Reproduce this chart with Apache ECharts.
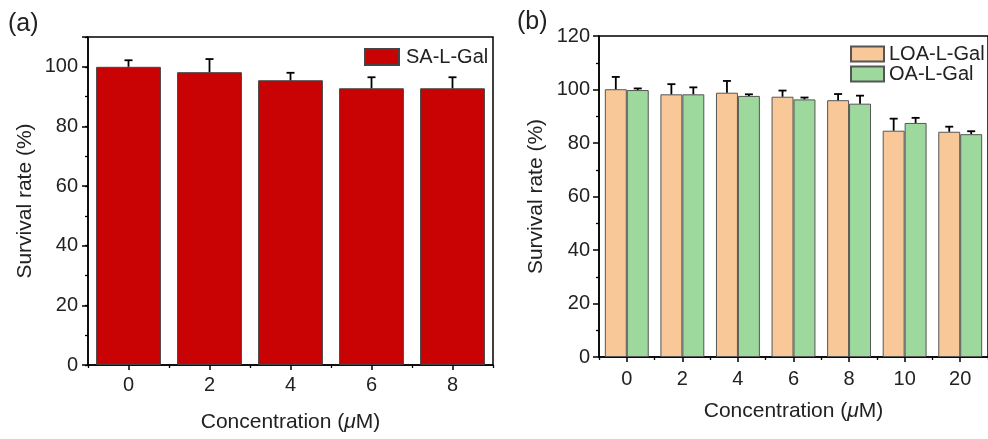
<!DOCTYPE html>
<html>
<head>
<meta charset="utf-8">
<script src="https://cdn.jsdelivr.net/npm/echarts@6/dist/echarts.min.js"></script>
<style>
html,body{margin:0;padding:0;background:#fff;}
#chart{width:988px;height:439px;}
</style>
</head>
<body>
<div id="chart"></div>
<script>
// ---- data ----
var catsA = ['0', '2', '4', '6', '8'];
var saVals = [100, 98.2, 95.5, 92.8, 92.8];
var saErr = [2.2, 4.4, 2.5, 3.7, 3.7];

var catsB = ['0', '2', '4', '6', '8', '10', '20'];
var loaVals = [100.1, 98.2, 98.8, 97.3, 96.0, 84.6, 84.2];
var loaErr = [4.6, 3.8, 4.4, 2.3, 2.3, 4.5, 1.9];
var oaVals = [99.8, 98.2, 97.6, 96.3, 94.7, 87.5, 83.3];
var oaErr = [0.6, 2.6, 0.6, 0.7, 3.0, 1.9, 1.1];

var FONT = '"Liberation Sans", Arial, sans-serif';
var TXT = '#222';

function errItem(gapFrac, nGroup, pos) {
  return function (params, api) {
    var i = api.value(0), v = api.value(1), e = api.value(2);
    var catW = api.size([1, 0])[0];
    var barW = catW * (1 - gapFrac) / nGroup;
    var center = api.coord([i, v]);
    var dx = (pos - (nGroup - 1) / 2) * barW;
    var x = center[0] + dx;
    var y0 = center[1];
    var y1 = api.coord([i, v + e])[1];
    var style = { stroke: '#000', lineWidth: 1.8 };
    return {
      type: 'group',
      children: [
        { type: 'line', shape: { x1: x, y1: y0, x2: x, y2: y1 }, style: style },
        { type: 'line', shape: { x1: x - 4, y1: y1, x2: x + 4, y2: y1 }, style: style }
      ]
    };
  };
}

function errData(vals, errs) {
  return vals.map(function (v, i) { return [i, v, errs[i]]; });
}

var xName = {
  name: 'Concentration ({i|μ}M)',
  nameLocation: 'middle',
  nameTextStyle: {
    fontSize: 21, fontFamily: FONT, color: TXT,
    rich: { i: { fontSize: 21, fontFamily: FONT, fontStyle: 'italic', color: TXT } }
  }
};

var axisLine = { show: true, lineStyle: { color: '#000', width: 1.5 } };

var option = {
  animation: false,
  backgroundColor: '#fff',
  graphic: [
    { type: 'text', left: 8, top: 12, style: { text: '(a)', fontSize: 25, fontFamily: FONT, fill: TXT } },
    { type: 'text', left: 517, top: 10, style: { text: '(b)', fontSize: 25, fontFamily: FONT, fill: TXT } }
  ],
  legend: [
    {
      data: ['SA-L-Gal'], left: 359, top: 42, orient: 'vertical',
      itemWidth: 34, itemHeight: 16, itemGap: 0, icon: 'rect',
      textStyle: { fontSize: 20, fontFamily: FONT, color: TXT, lineHeight: 20, padding: [0, 0, 0, 2] }
    },
    {
      data: ['LOA-L-Gal', 'OA-L-Gal'], left: 845, top: 39, orient: 'vertical',
      itemWidth: 33, itemHeight: 15, itemGap: 0, icon: 'rect',
      textStyle: { fontSize: 20, fontFamily: FONT, color: TXT, lineHeight: 19, padding: [0, 0, 0, 0] }
    }
  ],
  grid: [
    { left: 88, top: 37, width: 405, height: 328, show: true, borderColor: '#000', borderWidth: 1.5, backgroundColor: 'transparent' },
    { left: 599, top: 36, width: 392, height: 321, show: true, borderColor: '#000', borderWidth: 1.5, backgroundColor: 'transparent' }
  ],
  xAxis: [
    Object.assign({
      type: 'category', data: catsA, gridIndex: 0, position: 'bottom',
      nameGap: 47,
      axisLine: axisLine,
      axisTick: { show: true, alignWithLabel: true, length: 5, lineStyle: { color: '#000', width: 1.5 } },
      axisLabel: { fontSize: 20, fontFamily: FONT, color: TXT, margin: 10 }
    }, xName),
    {
      type: 'category', data: catsA, gridIndex: 0, position: 'bottom',
      axisLine: { show: false },
      axisTick: { show: true, alignWithLabel: false, length: 3, lineStyle: { color: '#000', width: 1.3 } },
      axisLabel: { show: false }
    },
    Object.assign({
      type: 'category', data: catsB, gridIndex: 1, position: 'bottom',
      nameGap: 44,
      axisLine: axisLine,
      axisTick: { show: true, alignWithLabel: true, length: 5, lineStyle: { color: '#000', width: 1.5 } },
      axisLabel: { fontSize: 20, fontFamily: FONT, color: TXT, margin: 12 }
    }, xName),
    {
      type: 'category', data: catsB, gridIndex: 1, position: 'bottom',
      axisLine: { show: false },
      axisTick: { show: true, alignWithLabel: false, length: 3, lineStyle: { color: '#000', width: 1.3 } },
      axisLabel: { show: false }
    }
  ],
  yAxis: [
    {
      type: 'value', gridIndex: 0, position: 'left', min: 0, max: 110, interval: 10,
      name: 'Survival rate (%)', nameLocation: 'middle', nameGap: 52,
      nameTextStyle: { fontSize: 21, fontFamily: FONT, color: TXT },
      axisLine: axisLine,
      axisTick: { show: true, length: 3, lineStyle: { color: '#000', width: 1.3 } },
      axisLabel: {
        fontSize: 20, fontFamily: FONT, color: TXT, margin: 10,
        formatter: function (v) { return (v % 20 === 0 && v <= 100) ? String(v) : ''; }
      },
      splitLine: { show: false }
    },
    {
      type: 'value', gridIndex: 0, position: 'left', min: 0, max: 110, interval: 20,
      axisLine: { show: false },
      axisTick: { show: true, length: 6, lineStyle: { color: '#000', width: 1.5 } },
      axisLabel: { show: false },
      splitLine: { show: false }
    },
    {
      type: 'value', gridIndex: 1, position: 'left', min: 0, max: 120, interval: 20,
      name: 'Survival rate (%)', nameLocation: 'middle', nameGap: 52,
      nameTextStyle: { fontSize: 21, fontFamily: FONT, color: TXT },
      axisLine: axisLine,
      axisTick: { show: true, length: 6, lineStyle: { color: '#000', width: 1.5 } },
      minorTick: { show: true, splitNumber: 2, length: 3, lineStyle: { color: '#000', width: 1.3 } },
      axisLabel: { fontSize: 20, fontFamily: FONT, color: TXT, margin: 9 },
      splitLine: { show: false },
      minorSplitLine: { show: false }
    }
  ],
  series: [
    {
      name: 'SA-L-Gal', type: 'bar', xAxisIndex: 0, yAxisIndex: 0,
      data: saVals, barCategoryGap: '20%',
      itemStyle: { color: '#C90303', borderColor: '#444', borderWidth: 1 }
    },
    {
      name: 'SA-L-Gal-err', type: 'custom', xAxisIndex: 0, yAxisIndex: 0, z: 5,
      renderItem: errItem(0.20, 1, 0), data: errData(saVals, saErr)
    },
    {
      name: 'LOA-L-Gal', type: 'bar', xAxisIndex: 2, yAxisIndex: 2,
      data: loaVals, barCategoryGap: '21%', barGap: '0%',
      itemStyle: { color: '#F9C898', borderColor: '#555', borderWidth: 1 }
    },
    {
      name: 'OA-L-Gal', type: 'bar', xAxisIndex: 2, yAxisIndex: 2,
      data: oaVals, barCategoryGap: '21%', barGap: '0%',
      itemStyle: { color: '#9DD89C', borderColor: '#555', borderWidth: 1 }
    },
    {
      name: 'LOA-err', type: 'custom', xAxisIndex: 2, yAxisIndex: 2, z: 5,
      renderItem: errItem(0.21, 2, 0), data: errData(loaVals, loaErr)
    },
    {
      name: 'OA-err', type: 'custom', xAxisIndex: 2, yAxisIndex: 2, z: 5,
      renderItem: errItem(0.21, 2, 1), data: errData(oaVals, oaErr)
    }
  ]
};

var chart = echarts.init(document.getElementById('chart'), null, { renderer: 'canvas' });
chart.setOption(option);
</script>
</body>
</html>
